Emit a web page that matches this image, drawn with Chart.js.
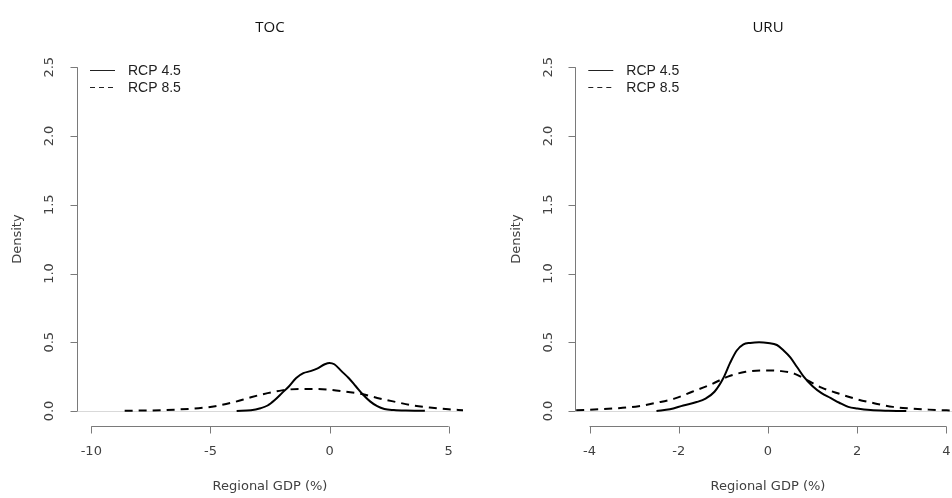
<!DOCTYPE html>
<html><head><meta charset="utf-8">
<script src="https://cdn.jsdelivr.net/npm/chart.js@4.4.0/dist/chart.umd.min.js"></script>
<style>
html,body{margin:0;padding:0;background:#fff;overflow:hidden;width:952px;height:498px}
#wrap{position:relative;width:952px;height:498px;overflow:hidden}
canvas{position:absolute;top:0}
</style></head>
<body><div id="wrap">
<canvas id="c1" width="476" height="498" style="left:0;width:476px;height:498px"></canvas>
<canvas id="c2" width="490" height="498" style="left:476px;width:490px;height:498px"></canvas>
</div>
<script>
// ---- data ----
const seriesLabels = ['RCP 4.5', 'RCP 8.5'];
const panelTitles = ['TOC', 'URU'];
const xTitle = 'Regional GDP (%)';
const yTitle = 'Density';

const tocX45 = [-3.9,-3.3,-2.9,-2.6,-2.3,-2.0,-1.7,-1.4,-1.1,-0.8,-0.5,-0.2,0,0.2,0.5,0.8,1.1,1.4,1.7,2.0,2.3,2.7,3.2,4.0];
const tocY45 = [0,0.005,0.02,0.04,0.08,0.13,0.18,0.24,0.275,0.29,0.31,0.34,0.35,0.34,0.29,0.24,0.18,0.12,0.07,0.035,0.015,0.007,0.003,0.001];
const tocX85 = [-8.6,-7.5,-6.5,-5.5,-4.8,-4.0,-3.3,-2.6,-2.0,-1.3,-0.6,0,0.7,1.4,2.0,2.8,3.5,4.2,5.0,5.6];
const tocY85 = [0.002,0.004,0.01,0.02,0.035,0.065,0.1,0.13,0.15,0.16,0.16,0.155,0.14,0.122,0.095,0.065,0.04,0.025,0.012,0.006];

const uruX45 = [-2.5,-2.2,-1.9,-1.6,-1.4,-1.2,-1.0,-0.85,-0.7,-0.55,-0.4,-0.2,0,0.2,0.35,0.5,0.65,0.8,1.0,1.2,1.4,1.6,1.8,2.0,2.3,2.7,3.1];
const uruY45 = [0,0.012,0.04,0.065,0.09,0.14,0.24,0.35,0.44,0.485,0.495,0.5,0.495,0.48,0.44,0.39,0.32,0.25,0.18,0.13,0.095,0.06,0.03,0.018,0.007,0.002,0];
const uruX85 = [-4.3,-3.8,-3.3,-2.9,-2.5,-2.1,-1.7,-1.3,-0.9,-0.5,-0.1,0.3,0.6,0.9,1.2,1.6,2.0,2.4,2.8,3.2,3.6,4.0,4.3];
const uruY85 = [0.006,0.012,0.022,0.035,0.06,0.09,0.14,0.19,0.25,0.285,0.295,0.29,0.27,0.22,0.17,0.125,0.085,0.055,0.03,0.018,0.01,0.005,0.003];

const tocXTicks = [-10,-5,0,5];
const uruXTicks = [-4,-2,0,2,4];
const yTicks = [0,0.5,1.0,1.5,2.0,2.5];
const yTickLabels = ['0.0','0.5','1.0','1.5','2.0','2.5'];

function pts(xs, ys){ return xs.map((x,i)=>({x:x, y:ys[i]})); }

const rAxes = {
  id: 'rAxes',
  beforeDatasetsDraw(chart, args, o){
    const ctx = chart.ctx, a = chart.chartArea, ys = chart.scales.y;
    ctx.save();
    ctx.strokeStyle = '#d9d9d9'; ctx.lineWidth = 1;
    const y0 = Math.round(ys.getPixelForValue(0)) + 0.5;
    ctx.beginPath(); ctx.moveTo(a.left, y0); ctx.lineTo(a.right, y0); ctx.stroke();
    ctx.restore();
  },
  afterDraw(chart, args, o){
    const ctx = chart.ctx, a = chart.chartArea, xs = chart.scales.x, ys = chart.scales.y;
    ctx.save();
    ctx.strokeStyle = '#7a7a7a'; ctx.lineWidth = 1;
    // y axis
    const ax = Math.round(a.left) + 0.5;
    ctx.beginPath();
    ctx.moveTo(ax, ys.getPixelForValue(yTicks[0])); ctx.lineTo(ax, ys.getPixelForValue(yTicks[yTicks.length-1]));
    yTicks.forEach(v => { const p = Math.round(ys.getPixelForValue(v)) + 0.5; ctx.moveTo(ax, p); ctx.lineTo(ax - 7, p); });
    ctx.stroke();
    ctx.fillStyle = '#404040';
    ctx.font = '13px "DejaVu Sans"';
    ctx.textAlign = 'center'; ctx.textBaseline = 'middle';
    yTicks.forEach((v,i) => {
      const p = ys.getPixelForValue(v);
      ctx.save(); ctx.translate(a.left - 27, p); ctx.rotate(-Math.PI/2);
      ctx.fillText(yTickLabels[i], 0, 0); ctx.restore();
    });
    // x axis
    const ticks = o.xticks;
    const ay = Math.round(a.bottom) + 1.5;
    ctx.beginPath();
    ctx.moveTo(xs.getPixelForValue(ticks[0]), ay); ctx.lineTo(xs.getPixelForValue(ticks[ticks.length-1]), ay);
    ticks.forEach(v => { const p = Math.round(xs.getPixelForValue(v)) + 0.5; ctx.moveTo(p, ay); ctx.lineTo(p, ay + 7); });
    ctx.stroke();
    ticks.forEach(v => { ctx.fillText(String(v), xs.getPixelForValue(v), ay + 25); });
    // axis titles
    const cx = (a.left + a.right) / 2;
    ctx.fillText(xTitle, cx, 487);
    ctx.save(); ctx.translate(a.left - 59, (a.top + a.bottom) / 2); ctx.rotate(-Math.PI/2);
    ctx.fillText(yTitle, 0, 0); ctx.restore();
    // main title
    ctx.fillStyle = '#111';
    ctx.font = '15px "Open Sans"';
    ctx.fillText(o.title, cx, 28);
    // legend
    ctx.strokeStyle = '#222'; ctx.lineWidth = 1;
    ctx.font = '14px "Liberation Sans"';
    ctx.textAlign = 'left';
    chart.data.datasets.forEach((d, i) => {
      const ly = 70.5 + i * 17;
      ctx.setLineDash(i === 0 ? [] : [5, 4]);
      ctx.beginPath(); ctx.moveTo(a.left + 13, ly); ctx.lineTo(a.left + 38, ly); ctx.stroke();
      ctx.fillStyle = '#222';
      ctx.fillText(d.label, a.left + 51, ly + 1);
    });
    ctx.restore();
  }
};

function makeChart(id, title, d45, d85, xmin, xmax, xticks, pad){
  return new Chart(document.getElementById(id), {
    type: 'line',
    data: { datasets: [
      { label: seriesLabels[0], data: d45, borderColor: '#000', borderWidth: 2, pointRadius: 0, fill: false, cubicInterpolationMode: 'monotone' },
      { label: seriesLabels[1], data: d85, borderColor: '#000', borderWidth: 2, pointRadius: 0, fill: false, borderDash: [8, 6], cubicInterpolationMode: 'monotone' }
    ]},
    options: {
      responsive: false, animation: false, devicePixelRatio: 1,
      layout: { padding: pad },
      plugins: { legend: { display: false }, tooltip: { enabled: false }, rAxes: { title: title, xticks: xticks } },
      scales: {
        x: { type: 'linear', min: xmin, max: xmax, display: false },
        y: { type: 'linear', min: -0.1, max: 2.6, display: false }
      }
    },
    plugins: [rAxes]
  });
}

makeChart('c1', panelTitles[0], pts(tocX45, tocY45), pts(tocX85, tocY85), -10.6, 5.6, tocXTicks,
  { left: 77, right: 13, top: 53.5, bottom: 73.25 });
makeChart('c2', panelTitles[1], pts(uruX45, uruY45), pts(uruX85, uruY85), -4.32, 4.32, uruXTicks,
  { left: 99.3, right: 5.3, top: 53.5, bottom: 73.25 });
</script>
</body></html>
